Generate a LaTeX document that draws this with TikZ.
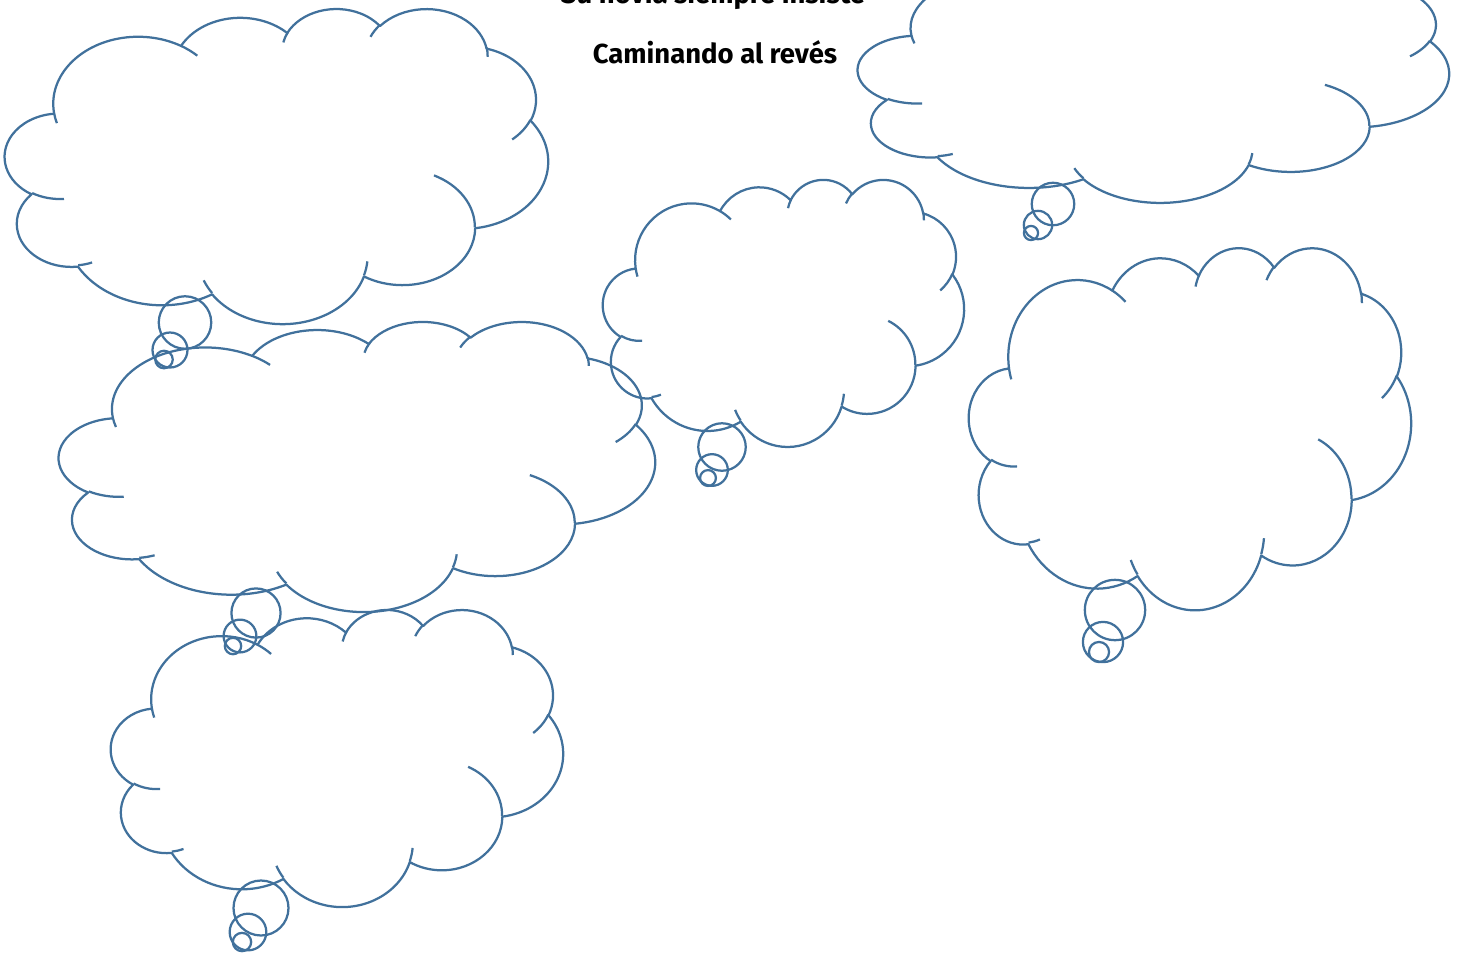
\documentclass[tikz,border=0pt]{standalone}
\usepackage{fontspec}
\setmainfont{Fira Sans}
\usepackage{xcolor}
\usepackage{tikz}
\usetikzlibrary{positioning,calc}

\definecolor{cloudline}{HTML}{41719C}

\pgfmathdeclarefunction{vang}{3}{%
  \begingroup
    \pgfmathparse{atan2(#1*sin(#3),#2*cos(#3))}%
    \edef\va{\pgfmathresult}%
    \pgfmathparse{\va+360*round((#3-\va)/360)}%
    \pgfmathsmuggle\pgfmathresult
  \endgroup}

\newcommand\bump[4]{arc[x radius=#1, y radius=#2, start angle={vang(#1,#2,#3)}, end angle={vang(#1,#2,#3+#4)}]}

\newcommand\thoughtcloud[4]{%
  \begin{scope}[shift={(#1,#2)}, x=#3pt/43.2, y=-#4pt/43.2]
    \draw[cloudpen] (3.900,14.370)
      \bump{6.753}{9.190}{-190.4875}{123.7805}
      \bump{5.333}{7.267}{-144.1024}{89.9452}
      \bump{4.365}{5.945}{-145.8079}{99.7230}
      \bump{4.857}{6.595}{-130.9861}{117.2417}
      \bump{5.333}{7.273}{-78.7089}{109.0269}
      \bump{6.775}{9.220}{-46.2673}{130.2690}
      \bump{5.785}{7.867}{0.6250}{114.0333}
      \bump{6.752}{9.215}{22.4516}{115.1726}
      \bump{7.720}{10.543}{66.2426}{75.7110}
      \bump{4.360}{5.918}{-274.9421}{146.7356}
      \bump{4.345}{5.945}{-246.8285}{152.5189} -- cycle;
    \draw[cloudpen]
      (4.693,26.177) \bump{4.345}{5.945}{86.7420}{26.4295}
      (6.928,34.899) \bump{4.360}{5.918}{73.6105}{11.4475}
      (16.478,39.090) \bump{6.752}{9.215}{137.6242}{14.0811}
      (28.827,34.751) \bump{6.752}{9.215}{6.4533}{15.9984}
      (34.129,22.954) \bump{5.785}{7.867}{-70.2924}{70.9174}
      (41.798,15.354) \bump{5.333}{7.273}{30.3180}{27.7515}
      (38.324,5.426) \bump{4.857}{6.595}{-13.7443}{14.8589}
      (29.078,3.952) \bump{4.857}{6.595}{-149.1815}{18.1954}
      (22.141,4.720) \bump{4.365}{5.945}{-163.4943}{17.6864}
      (14.000,5.192) \bump{6.753}{9.190}{-66.7070}{12.3194}
      (4.127,15.789) \bump{6.753}{9.190}{157.6544}{11.8582};
  \end{scope}}

\begin{document}
\begin{tikzpicture}[x=1pt, y=-1pt,
    cloudpen/.style={draw=cloudline, line width=2.25pt, line join=round},
    titletext/.style={font=\bfseries\fontsize{27.5}{32}\selectfont, anchor=base}]
    \clip (0,0) rectangle (1463,954);

    \foreach \cx/\cy/\cw/\ch in {5/8/543/315, 59/321/596/290, 111/609/452/297,
                                 603/179/361/267, 858/-48/591/250, 969/247/442/362}
        \thoughtcloud{\cx}{\cy}{\cw}{\ch};

    \foreach \bx/\by/\mx/\my/\sx/\sy/\ss in {185/322.5/170/350/164/359.5/315,
                                             256/613/240/636/233/646/295,
                                             261/908/248/932/242/942/330,
                                             722/447/712/470/708/478/285,
                                             1053/204/1038/225/1031/233/255,
                                             1115/610/1103/642/1099/652/362}
    {
        \coordinate (big) at (\bx,\by);
        \coordinate (mid) at (\mx,\my);
        \coordinate (tip) at (\sx,\sy);
        \draw[cloudpen] (big) circle[radius=\ss/12];
        \draw[cloudpen] (mid) circle[radius=\ss/18];
        \draw[cloudpen] (tip) circle[radius=\ss/36];
    }

    \node[titletext] (story) at (713,3) {Su novia siempre insiste};
    \node[titletext] (title) at (715,63) {Caminando al revés};
\end{tikzpicture}
\end{document}
